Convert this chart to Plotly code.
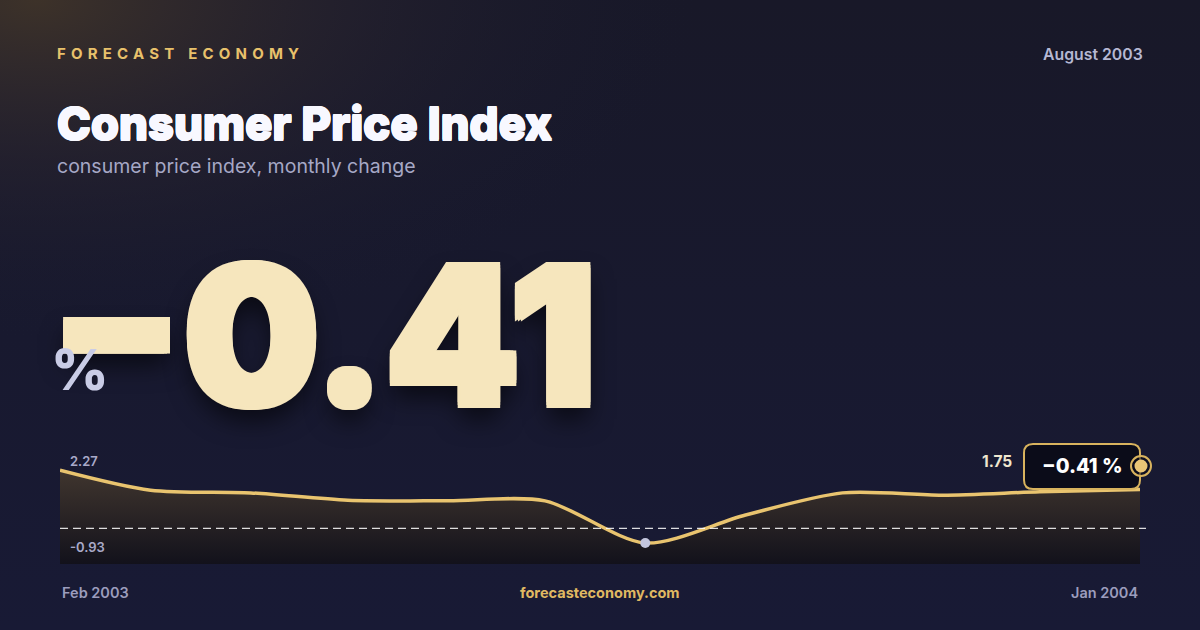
import base64
import plotly.graph_objects as go

# ------------------------------------------------------ #
#       Data                                             #
# ------------------------------------------------------ #
months = ["2003-02-01", "2003-03-01", "2003-04-01", "2003-05-01", "2003-06-01", "2003-07-01",
          "2003-08-01", "2003-09-01", "2003-10-01", "2003-11-01", "2003-12-01", "2004-01-01"]
cpi_change = [2.27, 1.39, 1.27, 0.95, 0.92, 0.92, -0.93, 0.30, 1.27, 1.17, 1.32, 1.42]

ref_level = -0.29      # dashed reference line
floor_level = -1.85    # bottom of the shaded area

headline_value = "−0.41"
badge_text = "−0.41 %"
max_label = "2.27"
min_label = "-0.93"
last_label = "1.75"
period_label = "August 2003"
start_label = "Feb 2003"
end_label = "Jan 2004"

W, H = 1200, 630
FONT = "Inter"
GOLD = "#e9c46f"


def px(x):
    return x / W


def py(y):
    return 1 - y / H


def fatten(color, d):
    # text-shadow ring used to make a glyph look heavier
    offs = [(d, 0), (-d, 0), (0, d), (0, -d), (d, d), (-d, d), (d, -d), (-d, -d)]
    return ", ".join(f"{x}px {y}px 0px {color}" for x, y in offs)


# background: dark navy with a warm glow top-left
bg_svg = (
    "<svg xmlns='http://www.w3.org/2000/svg' width='1200' height='630'>"
    "<defs>"
    "<linearGradient id='b' x1='0' y1='0' x2='0' y2='1'>"
    "<stop offset='0' stop-color='#181828'/><stop offset='1' stop-color='#181a35'/>"
    "</linearGradient>"
    "<radialGradient id='g' cx='0.03' cy='0' r='0.55'>"
    "<stop offset='0' stop-color='#3d3229' stop-opacity='1'/>"
    "<stop offset='0.5' stop-color='#2a2530' stop-opacity='0.5'/>"
    "<stop offset='1' stop-color='#181a30' stop-opacity='0'/>"
    "</radialGradient>"
    "</defs>"
    "<rect width='1200' height='630' fill='url(#b)'/>"
    "<rect width='1200' height='630' fill='url(#g)'/>"
    "</svg>"
)
bg_src = "data:image/svg+xml;base64," + base64.b64encode(bg_svg.encode()).decode()

fig = go.Figure()

# floor for the area fill
fig.add_trace(go.Scatter(x=months, y=[floor_level] * len(months), mode="lines",
                         line=dict(width=0), hoverinfo="skip", showlegend=False))
fig.add_trace(go.Scatter(
    x=months, y=cpi_change, mode="lines",
    line=dict(color=GOLD, width=3.5, shape="spline", smoothing=0.8),
    fill="tonexty",
    fillgradient=dict(type="vertical",
                      colorscale=[[0, "rgba(18,17,26,0.95)"], [1, "rgba(66,55,46,0.95)"]]),
    hoverinfo="skip", showlegend=False))

# lowest point
i_min = cpi_change.index(min(cpi_change))
fig.add_trace(go.Scatter(x=[months[i_min]], y=[cpi_change[i_min]], mode="markers",
                         marker=dict(color="#c3c6de", size=10), hoverinfo="skip", showlegend=False))

# dashed reference line
fig.add_shape(type="line", xref="paper", yref="y", x0=px(60), x1=px(1146),
              y0=ref_level, y1=ref_level,
              line=dict(color="rgba(255,255,255,0.85)", width=1.3, dash="8px,5px"))

# badge at the end of the line
bx0, bx1, by0, by1, r = 1024, 1140, 444, 489, 9
badge_path = (
    f"M {px(bx0 + r)} {py(by0)} L {px(bx1 - r)} {py(by0)} "
    f"Q {px(bx1)} {py(by0)} {px(bx1)} {py(by0 + r)} "
    f"L {px(bx1)} {py(by1 - r)} Q {px(bx1)} {py(by1)} {px(bx1 - r)} {py(by1)} "
    f"L {px(bx0 + r)} {py(by1)} Q {px(bx0)} {py(by1)} {px(bx0)} {py(by1 - r)} "
    f"L {px(bx0)} {py(by0 + r)} Q {px(bx0)} {py(by0)} {px(bx0 + r)} {py(by0)} Z"
)
fig.add_shape(type="path", xref="paper", yref="paper", path=badge_path,
              fillcolor="#0b0c19", line=dict(color="#d8b35e", width=2))
cx, cy = 1141, 466
fig.add_shape(type="circle", xref="paper", yref="paper",
              x0=px(cx - 10), x1=px(cx + 10), y0=py(cy + 10), y1=py(cy - 10),
              fillcolor="rgba(11,12,25,0.6)", line=dict(color="#d8b35e", width=2))
fig.add_shape(type="circle", xref="paper", yref="paper",
              x0=px(cx - 6.5), x1=px(cx + 6.5), y0=py(cy + 6.5), y1=py(cy - 6.5),
              fillcolor="#eac676", line=dict(width=0))


def label(text, x, y, size, color, weight=400, anchor="left", shadow=None):
    f = dict(family=FONT, size=size, color=color, weight=weight)
    if shadow:
        f["shadow"] = shadow
    shift = {"left": -2, "right": 2, "center": 0}[anchor]
    fig.add_annotation(text=text, x=px(x), y=py(y), xref="paper", yref="paper",
                       xanchor=anchor, yanchor="middle", xshift=shift, showarrow=False, font=f)


label("<span style='letter-spacing:5.2px'>FORECAST ECONOMY</span>", 57, 53, 15, "#e8c16b", 700)
label(period_label, 1143, 54, 15.8, "#b6b8d3", 600, anchor="right")
label("Consumer Price Index", 57, 124, 45.5, "#f8f8ff", 800, shadow=fatten("#f8f8ff", 0.7))
label("consumer price index, monthly change", 57, 166, 19.5, "#a6a8c6", 400)

label(headline_value, 50, 335, 192, "#f6e6bd", 900,
      shadow=fatten("#f6e6bd", 3) + ", 0px 14px 24px rgba(0,0,0,0.6)")
label("%", 51, 370, 56, "#c9cce6", 800)

label(max_label, 70, 461, 13, "#a9aac9", 600)
label(min_label, 70, 547, 13, "#a9aac9", 600)
label(last_label, 1012, 462, 15.5, "#efe6cf", 700, anchor="right")
label(badge_text, 1082, 466, 20, "#ffffff", 800, anchor="center")

label(start_label, 62, 592, 14.5, "#9c9dbd", 600)
label("forecasteconomy.com", 600, 592, 14.5, "#e0b962", 700, anchor="center")
label(end_label, 1138, 592, 14.5, "#9c9dbd", 600, anchor="right")

# plot area: x 60..1140, y 440..564 px
y_top = 3.59
fig.update_layout(
    width=W, height=H,
    margin=dict(l=0, r=0, t=0, b=0),
    paper_bgcolor="#17182d", plot_bgcolor="rgba(0,0,0,0)",
    xaxis=dict(domain=[px(60), px(1140)], range=[months[0], months[-1]], visible=False),
    yaxis=dict(domain=[py(564), py(440)], range=[floor_level, y_top], visible=False),
    images=[dict(source=bg_src, xref="paper", yref="paper", x=0, y=1, sizex=1, sizey=1,
                 sizing="stretch", layer="below", xanchor="left", yanchor="top")],
)

fig.write_html("out.html", config={"displayModeBar": False},
               post_script="document.body.style.margin='0';")
